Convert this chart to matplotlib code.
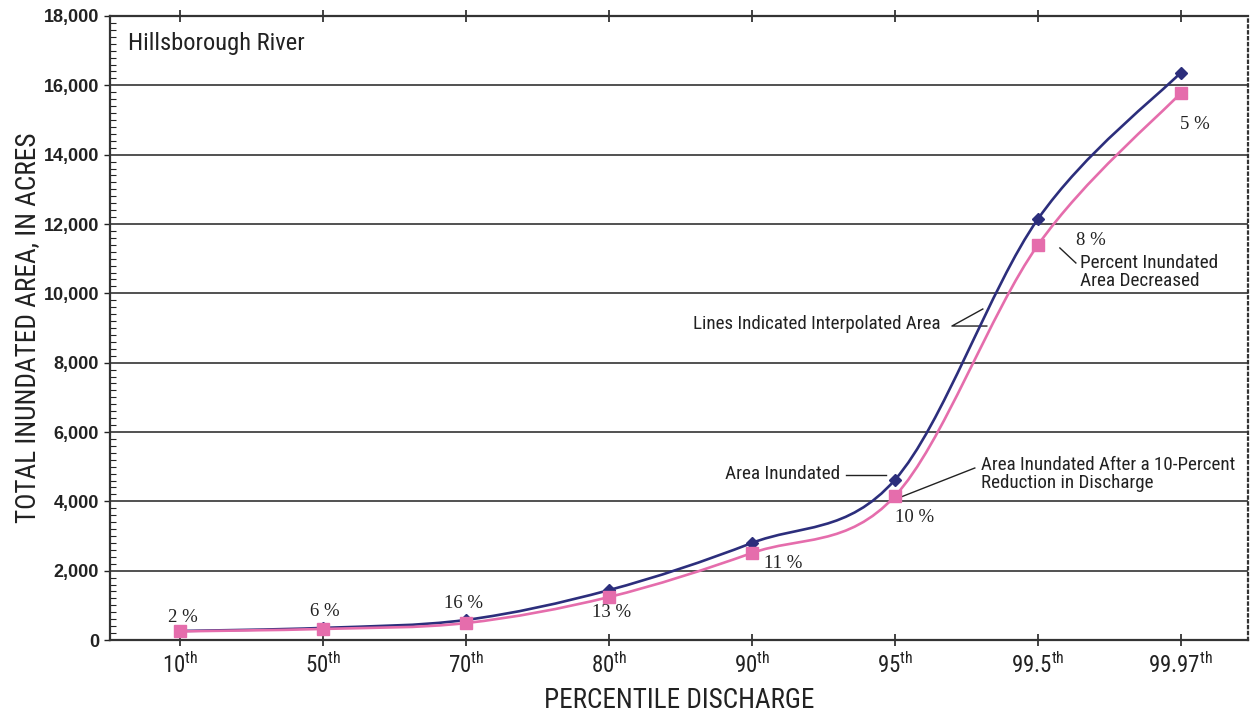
import numpy as np
import matplotlib
matplotlib.use('Agg')
import matplotlib.pyplot as plt
from matplotlib import font_manager
from matplotlib.path import Path
from matplotlib.patches import PathPatch
from matplotlib.ticker import MultipleLocator, FuncFormatter

percentiles = ['10', '50', '70', '80', '90', '95', '99.5', '99.97']
area = [260, 350, 580, 1440, 2800, 4620, 12140, 16370]
area_reduced = [250, 320, 490, 1240, 2510, 4150, 11390, 15780]
pct_labels = ['2 %', '6 %', '16 %', '13 %', '11 %', '10 %', '8 %', '5 %']

BLUE = '#2c2e7c'
PINK = '#e56dac'
INK = '#222222'


def pick_font():
    fonts = font_manager.fontManager.ttflist
    names = {f.name for f in fonts}
    for n in ['Liberation Sans Narrow', 'Roboto Condensed', 'Open Sans Condensed',
              'Noto Sans Condensed', 'DejaVu Sans Condensed']:
        if n in names:
            return n, 'normal'
    for f in fonts:
        if f.name in ('DejaVu Sans', 'Noto Sans', 'Open Sans', 'Roboto') and \
                str(f.stretch) in ('condensed', 'semi-condensed', '75', '87'):
            return f.name, 'condensed'
    return 'Roboto', 'normal'


NARROW, STRETCH = pick_font()
plt.rcParams['font.family'] = [NARROW, 'DejaVu Sans']
plt.rcParams['font.stretch'] = STRETCH
plt.rcParams['mathtext.fontset'] = 'custom'
plt.rcParams['mathtext.rm'] = NARROW
plt.rcParams['mathtext.it'] = NARROW


def smooth_path(xs, ys):
    # catmull-rom style smoothing, like a spreadsheet "smoothed line"
    pts = np.column_stack([xs, ys]).astype(float)
    ext = np.vstack([pts[0], pts, pts[-1]])
    verts = [pts[0]]
    codes = [Path.MOVETO]
    for i in range(len(pts) - 1):
        p0, p1, p2, p3 = ext[i], ext[i + 1], ext[i + 2], ext[i + 3]
        verts += [p1 + (p2 - p0) / 6, p2 - (p3 - p1) / 6, p2]
        codes += [Path.CURVE4] * 3
    return Path(verts, codes)


fig = plt.figure(figsize=(12.5, 7.14), dpi=100)
ax = fig.add_axes([0.088, 0.1036, 0.9104, 0.874])
renderer = fig.canvas.get_renderer()


def fit(t, width, horizontal=True):
    # shrink/grow a text so it spans about the same pixels as in the source
    bb = t.get_window_extent(renderer)
    cur = bb.width if horizontal else bb.height
    t.set_fontsize(t.get_fontsize() * width / cur)
    return t


x = np.arange(len(percentiles))
ax.add_patch(PathPatch(smooth_path(x, area), fill=False, edgecolor=BLUE, lw=1.9, zorder=3))
ax.add_patch(PathPatch(smooth_path(x, area_reduced), fill=False, edgecolor=PINK, lw=1.9, zorder=3))
ax.plot(x, area, ls='none', marker='D', ms=6.5, color=BLUE, zorder=4)
ax.plot(x, area_reduced, ls='none', marker='s', ms=8, color=PINK, zorder=5)

ax.set_xlim(-0.49, 7.47)
ax.set_ylim(0, 18000)
ax.yaxis.set_major_locator(MultipleLocator(2000))
ax.yaxis.set_minor_locator(MultipleLocator(200))
ax.yaxis.set_major_formatter(FuncFormatter(lambda v, p: f'{int(v):,}'))
ax.grid(axis='y', color=INK, lw=1.1, zorder=1)
ax.set_axisbelow(True)

ax.set_xticks(x)
ax.set_xticklabels([r'%s$^{\mathrm{th}}$' % p for p in percentiles], fontsize=16.5)
for lab in ax.get_yticklabels():
    lab.set_fontfamily('Liberation Sans')
    lab.set_fontweight('bold')
    lab.set_fontsize(13)
ax.tick_params(axis='y', which='major', direction='out', length=4, width=1, pad=4, colors=INK)
ax.tick_params(axis='y', which='minor', direction='in', length=4, width=0.8, colors=INK)
ax.tick_params(axis='x', which='major', direction='inout', length=8, width=1.2, pad=5,
               top=True, colors=INK)

for s in ['left', 'bottom', 'top']:
    ax.spines[s].set_color('#333333')
    ax.spines[s].set_linewidth(1.6)
ax.spines['right'].set_linestyle(':')
ax.spines['right'].set_linewidth(1.6)
ax.spines['right'].set_color('#333333')

yl = ax.set_ylabel('TOTAL INUNDATED AREA, IN ACRES', fontsize=18, color=INK)
fit(yl, 390, horizontal=False)
xl = ax.set_xlabel('PERCENTILE DISCHARGE', fontsize=18, color=INK, labelpad=6)
fit(xl, 270)
fig.canvas.draw()
# keep the y label centred near x=28 px
ax.yaxis.set_label_coords(-(110 - 28) / (0.9104 * 1250), 0.5)
ax.yaxis.label.set_va('center')

fit(ax.text(-0.364, 17200, 'Hillsborough River', fontsize=15, color=INK, va='center'), 177)

# percent decrease labels
pct_pos = [(0.021, 663), (1.014, 837), (1.986, 1067), (3.021, 808),
           (4.217, 2221), (5.140, 3548), (6.371, 11511), (7.098, 14883)]
for (px, py), t in zip(pct_pos, pct_labels):
    ax.text(px, py, t, family='Liberation Serif', fontsize=13.5, color=INK,
            ha='center', va='center')

lw_ann = 1.0
fit(ax.text(4.615, 4788, 'Area Inundated', fontsize=12.5, ha='right', va='center', color=INK), 116)
ax.plot([4.657, 4.937], [4760, 4760], color=INK, lw=lw_ann)

fit(ax.text(5.601, 4788, 'Area Inundated After a 10-Percent\nReduction in Discharge', fontsize=12.5,
            ha='left', va='center', color=INK, linespacing=1.05), 257)
ax.plot([5.559, 5.042], [4962, 4125], color=INK, lw=lw_ann)

fit(ax.text(5.322, 9115, 'Lines Indicated Interpolated Area', fontsize=12.5, ha='right',
            va='center', color=INK), 249)
ax.plot([5.615, 5.399, 5.643], [9548, 9057, 9057], color=INK, lw=lw_ann)

ax.plot([6.154, 6.266], [11309, 10876], color=INK, lw=lw_ann)
fit(ax.text(6.294, 10615, 'Percent Inundated\nArea Decreased', fontsize=12.5, ha='left',
            va='center', color=INK, linespacing=1.05), 139)

fig.savefig('out.png', dpi=100)
